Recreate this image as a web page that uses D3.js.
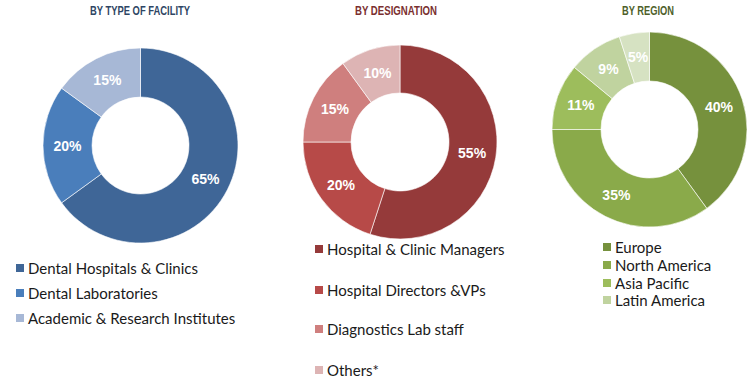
<!DOCTYPE html>
<html><head><meta charset="utf-8">
<script src="https://cdn.jsdelivr.net/npm/d3@7"></script>
<style>
html,body{margin:0;padding:0;background:#fff;}
svg{display:block;}
</style></head>
<body>
<svg id="chart" width="750" height="384"></svg>
<script>
// ---- data ----
const facilityLabels = ["Dental Hospitals & Clinics", "Dental Laboratories", "Academic & Research Institutes"];
const facilityValues = [65, 20, 15];
const facilityColors = ["#3F6697", "#4A7EBB", "#A7B8D6"];

const designationLabels = ["Hospital & Clinic Managers", "Hospital Directors &VPs", "Diagnostics Lab staff", "Others*"];
const designationValues = [55, 20, 15, 10];
const designationColors = ["#953A3A", "#B74A48", "#CF7F7E", "#DDB4B4"];

const regionLabels = ["Europe", "North America", "Asia Pacific", "Latin America"];
const regionValues = [40, 35, 11, 9, 5];
const regionColors = ["#76913D", "#8AAA4A", "#9DBD5C", "#C0D39F", "#D6E2C2"];

const titles = ["BY TYPE OF FACILITY", "BY DESIGNATION", "BY REGION"];
const titleColors = ["#2E4564", "#7A2F2F", "#4E5F2A"];

// ---- layout ----
const svg = d3.select("#chart");
const panels = [
  {title: titles[0], tc: titleColors[0], tx: 140, tw: 100, values: facilityValues, colors: facilityColors,
   cx: 140.5, cy: 145.5, r: 97.5, ir: 48.5,
   legend: facilityLabels, lx: 16, ly: [268, 293, 318]},
  {title: titles[1], tc: titleColors[1], tx: 396, tw: 82, values: designationValues, colors: designationColors,
   cx: 400, cy: 142, r: 97, ir: 49,
   legend: designationLabels, lx: 315, ly: [249, 290, 329, 370]},
  {title: titles[2], tc: titleColors[2], tx: 648, tw: 52, values: regionValues, colors: regionColors,
   cx: 649.5, cy: 129.5, r: 97.5, ir: 48.5,
   legend: regionLabels, lx: 603, ly: [247, 265, 283, 300]}
];

const pie = d3.pie().sort(null).value(d => d);

panels.forEach(p => {
  svg.append("text")
    .attr("x", p.tx).attr("y", 12)
    .attr("text-anchor", "middle").attr("dominant-baseline", "middle")
    .attr("font-family", "'Liberation Sans', Arial, sans-serif")
    .attr("font-weight", "bold").attr("font-size", 12.5)
    .attr("textLength", p.tw).attr("lengthAdjust", "spacingAndGlyphs")
    .attr("fill", p.tc)
    .text(p.title);

  const g = svg.append("g").attr("transform", `translate(${p.cx},${p.cy})`);
  const arc = d3.arc().innerRadius(p.ir).outerRadius(p.r);
  const arcs = pie(p.values);
  g.selectAll("path").data(arcs).join("path")
    .attr("d", arc)
    .attr("fill", (d, i) => p.colors[i])
    .attr("stroke", "#ffffff").attr("stroke-width", 0.6);
  g.selectAll("text.lbl").data(arcs).join("text")
    .attr("class", "lbl")
    .attr("transform", d => `translate(${arc.centroid(d)})`)
    .attr("text-anchor", "middle").attr("dominant-baseline", "central")
    .attr("font-family", "'Liberation Sans', Arial, sans-serif")
    .attr("font-weight", "bold").attr("font-size", 14)
    .attr("fill", "#ffffff")
    .text(d => d.data + "%");

  p.legend.forEach((name, i) => {
    svg.append("rect")
      .attr("x", p.lx).attr("y", p.ly[i] - 4)
      .attr("width", 8).attr("height", 8)
      .attr("fill", p.colors[i]);
    svg.append("text")
      .attr("x", p.lx + 12).attr("y", p.ly[i])
      .attr("dominant-baseline", "central")
      .attr("font-family", "Lato, 'Open Sans', sans-serif")
      .attr("font-size", 15)
      .attr("fill", "#1a1a1a")
      .text(name);
  });
});
</script>
</body></html>
